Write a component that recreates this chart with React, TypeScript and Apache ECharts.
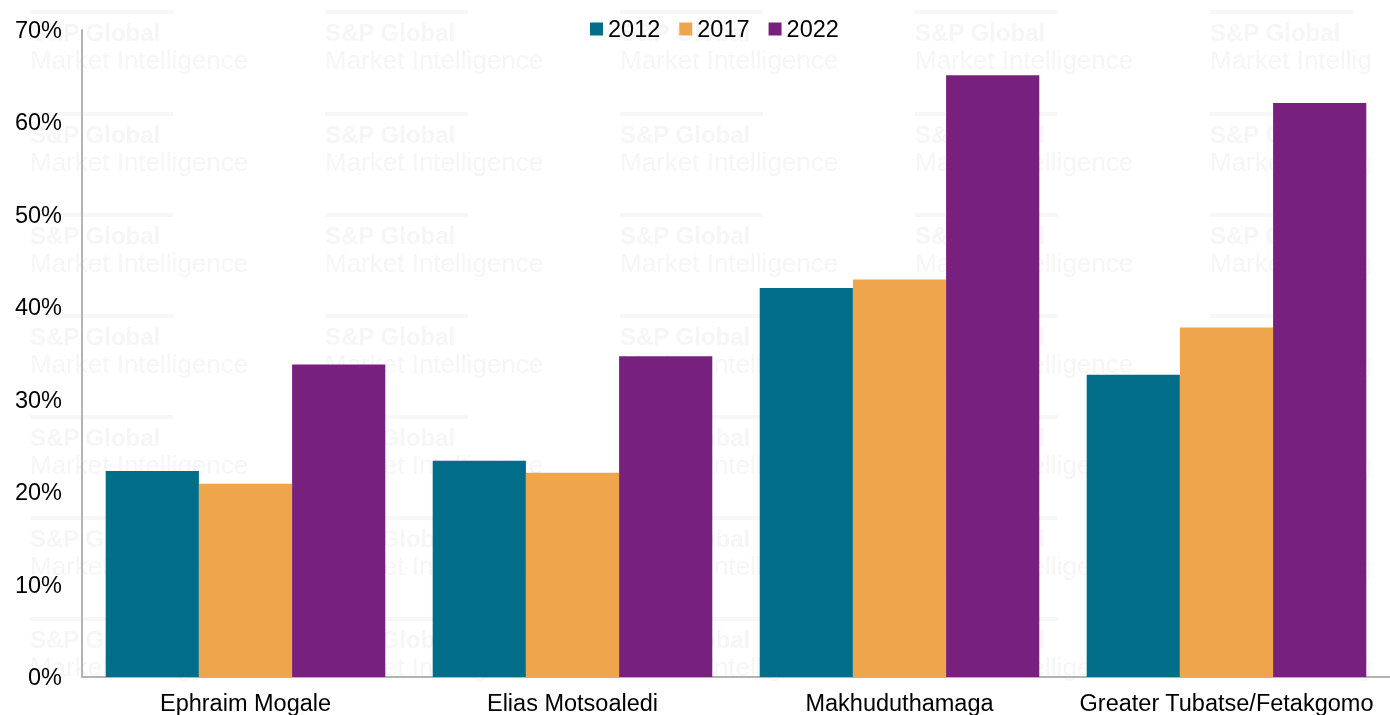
import React, { useEffect, useRef } from "react";
import * as echarts from "echarts";

const categories = ["Ephraim Mogale", "Elias Motsoaledi", "Makhuduthamaga", "Greater Tubatse/Fetakgomo"];
const years = ["2012", "2017", "2022"];
const values2012 = [22.3, 23.4, 42.1, 32.7];
const values2017 = [20.9, 22.1, 43.0, 37.8];
const values2022 = [33.8, 34.7, 65.1, 62.1];
const colors = ["#016d88", "#efa54c", "#78207d"];

const watermarkCols = [30, 325, 620, 915, 1210];
const watermarkRows = [10, 112, 213, 314, 415, 516, 617];

export default function App() {
  const ref = useRef<HTMLDivElement>(null);
  useEffect(() => {
    if (!ref.current) return;
    const chart = echarts.init(ref.current, null, { renderer: "svg" });
    const font = "'Liberation Sans', Arial, sans-serif";
    const wm: any[] = [];
    watermarkRows.forEach((y) => {
      watermarkCols.forEach((x) => {
        const w = Math.min(290, 1390 - x);
        wm.push({ type: "rect", left: x, top: y, z: -10, shape: { width: 143, height: 4 }, style: { fill: "#f7f7f7" }, silent: true });
        wm.push({ type: "text", left: x, top: y + 10, z: -10, style: { text: "S&P Global", fill: "#f6f6f6", font: `bold 24px ${font}`, width: w, overflow: "truncate", ellipsis: "" }, silent: true });
        wm.push({ type: "text", left: x, top: y + 37, z: -10, style: { text: "Market Intelligence", fill: "#f6f6f6", font: `26px ${font}`, width: w, overflow: "truncate", ellipsis: "" }, silent: true });
      });
    });
    const seriesData = [values2012, values2017, values2022];
    chart.setOption({
      animation: false,
      textStyle: { fontFamily: font },
      graphic: wm,
      legend: {
        top: 12,
        left: 585,
        itemWidth: 13,
        itemHeight: 13,
        itemGap: 19,
        icon: "rect",
        textStyle: { fontSize: 23.5, color: "#000", fontFamily: font },
        data: years,
      },
      grid: { left: 82, right: -12, top: 30, bottom: 37, containLabel: false },
      xAxis: {
        type: "category",
        data: categories,
        axisLine: { lineStyle: { color: "#b3b3b3", width: 2 } },
        axisTick: { show: false },
        axisLabel: { interval: 0, fontSize: 23.5, color: "#000", margin: 14, fontFamily: font },
      },
      yAxis: {
        type: "value",
        min: 0,
        max: 70,
        interval: 10,
        axisLine: { show: true, lineStyle: { color: "#b3b3b3", width: 2 } },
        axisTick: { show: false },
        splitLine: { show: false },
        axisLabel: { fontSize: 23.5, color: "#000", margin: 20, formatter: "{value}%", fontFamily: font },
      },
      series: years.map((y, i) => ({
        name: y,
        type: "bar",
        data: seriesData[i],
        itemStyle: { color: colors[i] },
        barGap: "0%",
        barCategoryGap: "14.5%",
      })),
    });
    return () => chart.dispose();
  }, []);
  return <div ref={ref} style={{ position: "fixed", left: 0, top: 0, width: 1390, height: 715 }} />;
}
